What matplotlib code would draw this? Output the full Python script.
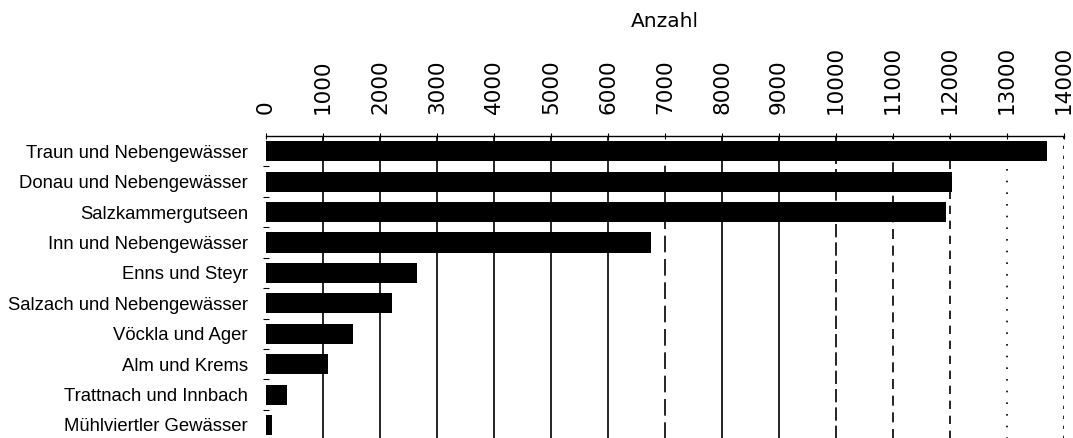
import matplotlib
matplotlib.use("Agg")
import matplotlib.pyplot as plt

categories = ["Traun und Nebengewässer", "Donau und Nebengewässer", "Salzkammergutseen",
              "Inn und Nebengewässer", "Enns und Steyr", "Salzach und Nebengewässer",
              "Vöckla und Ager", "Alm und Krems", "Trattnach und Innbach", "Mühlviertler Gewässer"]
values = [13700, 12030, 11925, 6750, 2650, 2205, 1530, 1095, 363, 110]
xticks = list(range(0, 14001, 1000))

fig = plt.figure(figsize=(10.73, 4.38), dpi=100)
ax = fig.add_axes([266/1073, -0.005, (1064-266)/1073, 1 - 136/438 + 0.005])

y = list(range(len(categories)))
ax.barh(y, values, height=0.66, color="black", zorder=3)
ax.set_ylim(len(categories) - 0.5, -0.5)
ax.set_xlim(0, 14000)

ax.xaxis.tick_top()
ax.xaxis.set_label_position("top")
ax.set_xticks(xticks)
ax.set_xticklabels([str(v) for v in xticks], rotation=90, fontsize=15.5,
                   family="DejaVu Sans", va="bottom")
ax.tick_params(axis="x", length=5, pad=13, direction="inout", width=0.8)
ax.set_xlabel("Anzahl", fontsize=14.5, family="DejaVu Sans")
ax.xaxis.set_label_coords(0.5, 1 + (136 - 28) / 302)

ax.set_yticks(y)
ax.set_yticklabels(categories, fontsize=13.3, family="Liberation Sans")
ax.tick_params(axis="y", length=0, pad=13)
ax.set_yticks([i + 0.5 for i in range(len(categories) - 1)], minor=True)
ax.tick_params(axis="y", which="minor", length=5, direction="inout", width=0.8)

grid_styles = {7000: (0, (10, 4)), 10000: (0, (8, 3)), 11000: (0, (6, 4)),
               12000: (0, (5, 4)), 13000: (0, (1, 6)), 14000: (0, (2, 4))}
for xv in xticks[1:]:
    ls = grid_styles.get(xv, "-")
    ax.axvline(xv, color="black", lw=1.2, linestyle=ls, zorder=1)

for s in ["right", "bottom", "left"]:
    ax.spines[s].set_visible(False)
ax.spines["top"].set_linewidth(1.0)

fig.savefig("out.png", dpi=100)
